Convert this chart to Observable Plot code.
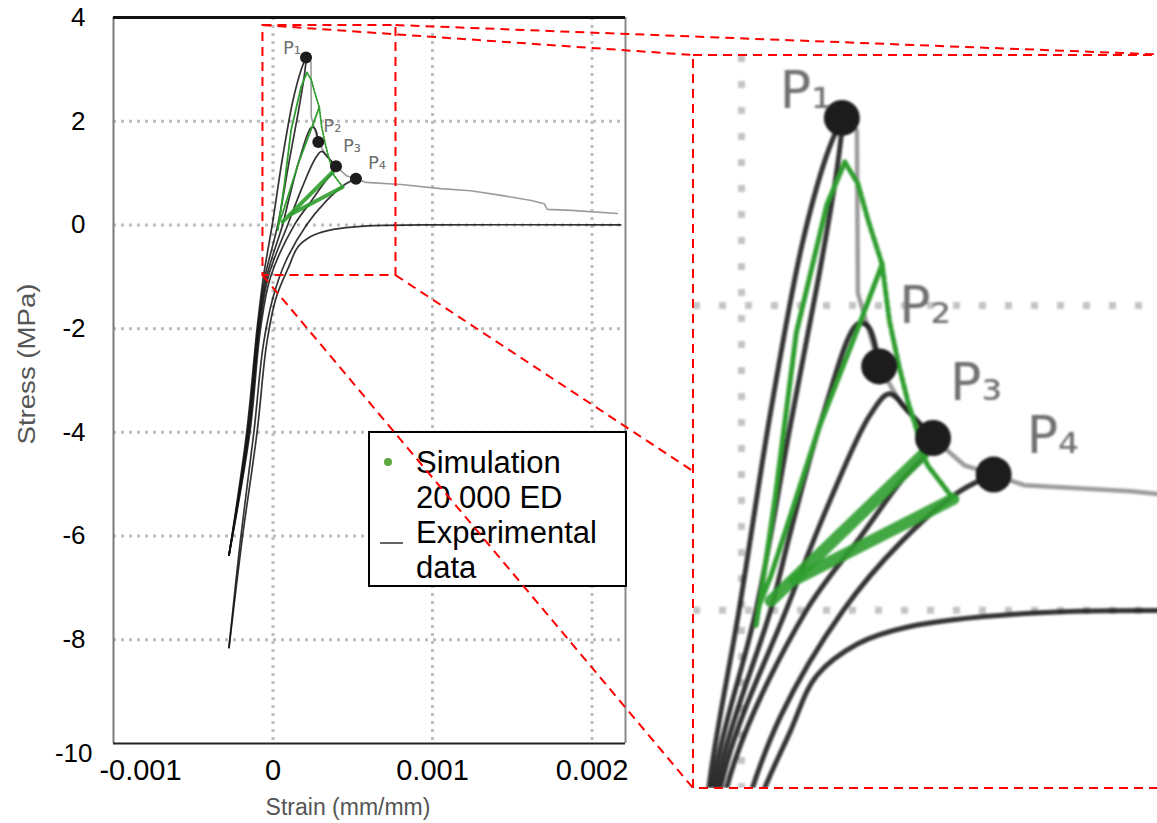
<!DOCTYPE html>
<html><head><meta charset="utf-8">
<script src="https://cdn.jsdelivr.net/npm/d3@7"></script>
<script src="https://cdn.jsdelivr.net/npm/@observablehq/plot@0.6"></script>
<style>
html,body{margin:0;padding:0;background:#fff;overflow:hidden;width:1157px;height:823px;}
#root{position:relative;width:1157px;height:823px;font-family:"Liberation Sans",Arial,sans-serif;overflow:hidden;}
#legend{position:absolute;left:368px;top:431px;width:255px;height:152px;border:2.5px solid #000;background:#fff;z-index:2;}
#legend .t{position:absolute;left:46px;font-size:31px;line-height:35px;color:#000;white-space:nowrap;}
#inset{position:absolute;overflow:hidden;background:#fff;z-index:4;}
#inset svg{filter:blur(0.9px);}
.title{position:absolute;color:#555;font-size:23px;white-space:nowrap;z-index:1;}
</style></head>
<body><div id="root"></div>
<script>
// ---------- data ----------
const X_DOMAIN = [-0.001, 0.00221];
const Y_DOMAIN = [-10, 4];
const xTicks = [-0.001, 0, 0.001, 0.002];
const xTickLabels = ["-0.001", "0", "0.001", "0.002"];
const yTicks = [4, 2, 0, -2, -4, -6, -8, -10];
const xGrid = [0, 0.001, 0.002];
const yGrid = [2, 0, -2, -4, -6, -8];
const xLabel = "Strain (mm/mm)";
const yLabel = "Stress (MPa)";
const legendSim = ["Simulation", "20 000 ED"];
const legendExp = ["Experimental", "data"];

// zoom window drawn on main chart, and domain of the enlarged inset
const zoomX = [-0.000063, 0.000771];
const zoomY = [-0.976, 3.845];
const insetX = [-0.000099, 0.000893];
const insetY = [-1.17, 3.64];

// peaks
const peakLabels = ["P₁", "P₂", "P₃", "P₄"];
const peakX = [0.000207, 0.000284, 0.000395, 0.000520];
const peakY = [3.23, 1.60, 1.13, 0.89];

// experimental curves [strain, stress]
const exp1 = [[-0.000276,-6.37],[-0.000165,-4.0],[-0.000100,-2.0],[-0.000060,-1.0],[-0.000005,0.0],[0.000060,1.30],[0.000125,2.40],[0.000175,2.98],[0.000207,3.23]];
const exp2 = [[-0.000276,-6.37],[-0.000160,-4.0],[-0.000095,-2.0],[-0.000050,-1.0],[0.000030,0.0],[0.000100,1.20],[0.000160,2.20],[0.000195,2.85],[0.000207,3.15]];
const exp3 = [[-0.000276,-6.37],[-0.000155,-4.0],[-0.000090,-2.0],[-0.000040,-1.0],[0.000060,0.0],[0.000100,0.50],[0.000165,1.25],[0.000240,1.88],[0.000262,1.86],[0.000284,1.60]];
const exp4 = [[-0.000276,-6.37],[-0.000150,-4.0],[-0.000085,-2.0],[-0.000030,-1.0],[0.000092,0.0],[0.000180,0.70],[0.000265,1.28],[0.000305,1.42],[0.000345,1.30],[0.000395,1.13]];
const exp5 = [[-0.000276,-6.37],[-0.000145,-4.0],[-0.000078,-2.0],[-0.000015,-1.0],[0.000134,0.0],[0.000245,0.48],[0.000330,0.85],[0.000380,1.02],[0.000395,1.13]];
const exp6 = [[-0.000276,-8.15],[-0.000205,-6.1],[-0.000120,-4.0],[-0.000060,-2.3],[0.000000,-1.4],[0.000080,-0.70],[0.000210,0.0],[0.000330,0.45],[0.000450,0.78],[0.000520,0.89]];
const exp7 = [[-0.000276,-8.15],[-0.000195,-6.1],[-0.000100,-4.0],[-0.000040,-2.3],[0.000020,-1.4],[0.000100,-0.80],[0.000155,-0.43],[0.000240,-0.22],[0.000343,-0.11],[0.000594,-0.02],[0.000930,0.0],[0.002180,0.0]];
// grey post-peak envelope
const envelope = [[0.000207,3.23],[0.000238,3.15],[0.000240,2.08],[0.000284,1.60],[0.000330,1.35],[0.000395,1.13],[0.000460,0.95],[0.000520,0.89],[0.000583,0.82],[0.000803,0.78],[0.00105,0.70],[0.00124,0.66],[0.00143,0.57],[0.00162,0.47],[0.00170,0.41],[0.00172,0.30],[0.00187,0.28],[0.00216,0.22]];
// simulation
const simLoad = [[0.000030,-0.10],[0.000040,0.10],[0.000070,0.75],[0.000113,1.82],[0.000176,2.66],[0.000213,2.94]];
const simSoften = [[0.000213,2.94],[0.000240,2.80],[0.000262,2.55],[0.000290,2.27],[0.000305,1.90],[0.000325,1.60],[0.000343,1.37],[0.000360,1.20],[0.000374,1.02],[0.000384,0.95],[0.000437,0.73]];
const simUnloadA = [[0.000290,2.27],[0.000240,1.85],[0.000160,1.20],[0.000060,0.22],[0.000035,0.02]];
const simUnloadB = [[0.000374,1.02],[0.000060,0.06]];
const simUnloadC = [[0.000437,0.73],[0.000110,0.20]];

// ---------- helpers ----------
const GREEN = "#2f9e2f";
const rows = (list) => list.flatMap((pts, id) => pts.map(([x, y]) => ({id, x, y})));
const pts = (a) => a.map(([x, y]) => ({x, y}));
const expRows = rows([exp1, exp2, exp3, exp4, exp5, exp6, exp7]);
const peaks = peakX.map((x, i) => ({x, y: peakY[i], label: peakLabels[i]}));
const zoomBox = {x1: zoomX[0], x2: zoomX[1], y1: zoomY[0], y2: zoomY[1]};

function dataMarks(s) {
  const m = [
    Plot.line(pts(envelope), {x: "x", y: "y", stroke: "#9c9c9c", strokeWidth: s.grey}),
    Plot.line(expRows, {x: "x", y: "y", z: "id", stroke: "#111", strokeOpacity: 0.85, strokeWidth: s.exp, curve: "catmull-rom"}),
    Plot.line(pts(simLoad), {x: "x", y: "y", stroke: GREEN, strokeWidth: s.thin}),
    Plot.line(pts(simUnloadA), {x: "x", y: "y", stroke: GREEN, strokeWidth: s.thin}),
    Plot.line(pts(simSoften), {x: "x", y: "y", stroke: GREEN, strokeWidth: s.thin, strokeDasharray: s.dash}),
    Plot.line(pts(simUnloadB), {x: "x", y: "y", stroke: GREEN, strokeWidth: s.thick, strokeOpacity: 0.9}),
    Plot.line(pts(simUnloadC), {x: "x", y: "y", stroke: GREEN, strokeWidth: s.thick, strokeOpacity: 0.9}),
    Plot.dot(peaks, {x: "x", y: "y", r: s.r, fill: "#1c1c1c"})
  ];
  peaks.forEach((p, i) => {
    m.push(Plot.text([p], {x: "x", y: "y", text: "label", textAnchor: i === 0 ? "end" : "start",
      dx: s.dx[i], dy: s.dy[i], fontSize: s.font, fill: "#707070", fontFamily: "DejaVu Sans"}));
  });
  return m;
}

const root = document.getElementById("root");

// ---------- main chart ----------
const mainPlot = Plot.plot({
  width: 660, height: 823,
  marginLeft: 113, marginRight: 35, marginTop: 17, marginBottom: 80,
  x: {domain: X_DOMAIN, label: null},
  y: {domain: Y_DOMAIN, label: null},
  style: {fontFamily: "Liberation Sans, Arial, sans-serif", fontSize: "26px", color: "#000", background: "transparent", overflow: "visible"},
  marks: [
    Plot.ruleY(yGrid, {stroke: "#bdbdbd", strokeWidth: 3, strokeDasharray: "3,5"}),
    Plot.ruleX(xGrid, {stroke: "#bdbdbd", strokeWidth: 3, strokeDasharray: "3,5"}),
    Plot.ruleX([X_DOMAIN[0]], {stroke: "#7a7a7a", strokeWidth: 2}),
    Plot.ruleX([X_DOMAIN[1]], {stroke: "#8a8a8a", strokeWidth: 2}),
    Plot.ruleY([Y_DOMAIN[0]], {stroke: "#222", strokeWidth: 2}),
    Plot.ruleY([Y_DOMAIN[1]], {stroke: "#111", strokeWidth: 3}),
    ...dataMarks({grey: 1.6, exp: 1.7, thin: 1.8, thick: 4, dash: "2,1.5", r: 6,
      dx: [-5, 5, 7, 12], dy: [-9, -16, -20, -16], font: 18}),
    Plot.rect([zoomBox], {x1: "x1", x2: "x2", y1: "y1", y2: "y2", fill: "none", stroke: "red", strokeWidth: 2, strokeDasharray: "9,6"}),
    Plot.axisX(xTicks.slice(1), {tickSize: 0, tickPadding: 16, fontSize: 29, tickFormat: d => xTickLabels[xTicks.indexOf(d)], label: null}),
    Plot.text(xTicks.slice(0, 1), {x: d => d, y: () => Y_DOMAIN[0], text: d => xTickLabels[xTicks.indexOf(d)], lineAnchor: "top", dx: 27, dy: 16, fontSize: 29, fill: "#000"}),
    Plot.axisY(yTicks.slice(0, -1), {tickSize: 0, tickPadding: 28, fontSize: 26, tickFormat: d => String(d), label: null}),
    Plot.text(yTicks.slice(-1), {x: () => X_DOMAIN[0], y: d => d, text: d => String(d), textAnchor: "end", dx: -21, dy: 10, fontSize: 26, fill: "#000"})
  ]
});
mainPlot.style.position = "absolute";
mainPlot.style.left = "0px";
mainPlot.style.top = "0px";
root.appendChild(mainPlot);

// axis titles
const yt = document.createElement("div");
yt.className = "title"; yt.textContent = yLabel;
yt.style.left = "27px"; yt.style.top = "364px";
yt.style.transform = "translate(-50%,-50%) rotate(-90deg) scaleX(1.2)";
root.appendChild(yt);
const xt = document.createElement("div");
xt.className = "title"; xt.textContent = xLabel;
xt.style.left = "348px"; xt.style.top = "807px";
xt.style.transform = "translate(-50%,-50%)";
root.appendChild(xt);

// ---------- legend ----------
const leg = document.createElement("div");
leg.id = "legend";
const legLines = [...legendSim, ...legendExp];
legLines.forEach((s, i) => {
  const t = document.createElement("div");
  t.className = "t"; t.textContent = s;
  t.style.top = (12 + i * 35) + "px";
  leg.appendChild(t);
});
const lsvg = d3.create("svg").attr("width", 60).attr("height", 150).style("position", "absolute").style("left", 0).style("top", 0);
lsvg.append("circle").attr("cx", 18).attr("cy", 29).attr("r", 4).attr("fill", "#5fa83f");
lsvg.append("line").attr("x1", 10).attr("x2", 33).attr("y1", 110).attr("y2", 110).attr("stroke", "#333").attr("stroke-width", 1.5);
leg.appendChild(lsvg.node());
root.appendChild(leg);

// ---------- inset ----------
const IW = 481, IH = 733, IL = 693, IT = 55;
const insetDiv = document.createElement("div");
insetDiv.id = "inset";
Object.assign(insetDiv.style, {left: IL + "px", top: IT + "px", width: IW + "px", height: IH + "px"});
const insetPlot = Plot.plot({
  width: IW, height: IH, margin: 0,
  x: {domain: insetX, axis: null},
  y: {domain: insetY, axis: null},
  style: {background: "#fff", overflow: "hidden"},
  marks: [
    Plot.ruleY(yGrid.filter(d => d > insetY[0] && d < insetY[1]), {stroke: "#c4c4c4", strokeWidth: 7, strokeDasharray: "7,19"}),
    Plot.ruleX(xGrid.filter(d => d > insetX[0] && d < insetX[1]), {stroke: "#c4c4c4", strokeWidth: 7, strokeDasharray: "7,19"}),
    ...dataMarks({grey: 4.5, exp: 5, thin: 5, thick: 12, dash: "5,3", r: 18,
      dx: [-10, 20, 17, 33], dy: [-27, -60, -55, -38], font: 52})
  ]
});
insetDiv.appendChild(insetPlot);

// ---------- connectors ----------
const sx = mainPlot.scale("x"), sy = mainPlot.scale("y");
const mL = sx.apply(zoomX[0]), mR = sx.apply(zoomX[1]);
const mT = sy.apply(zoomY[1]), mB = sy.apply(zoomY[0]);
const conn = d3.create("svg").attr("width", 1157).attr("height", 823)
  .style("position", "absolute").style("left", 0).style("top", 0).style("z-index", 3).style("pointer-events", "none");
[[mL, mT, IL, IT], [mR, mT, IL + IW, IT], [mL, mB, IL, IT + IH], [mR, mB, IL + IW, IT + IH]].forEach(([a, b, c, d]) => {
  conn.append("line").attr("x1", a).attr("y1", b).attr("x2", c).attr("y2", d)
    .attr("stroke", "red").attr("stroke-width", 2).attr("stroke-dasharray", "9,6");
});
root.appendChild(conn.node());
root.appendChild(insetDiv);

const border = d3.create("svg").attr("width", 1157).attr("height", 823)
  .style("position", "absolute").style("left", 0).style("top", 0).style("z-index", 5).style("pointer-events", "none");
border.append("rect").attr("x", IL).attr("y", IT).attr("width", IW).attr("height", IH)
  .attr("fill", "none").attr("stroke", "red").attr("stroke-width", 2).attr("stroke-dasharray", "9,6");
root.appendChild(border.node());
</script>
</body></html>
